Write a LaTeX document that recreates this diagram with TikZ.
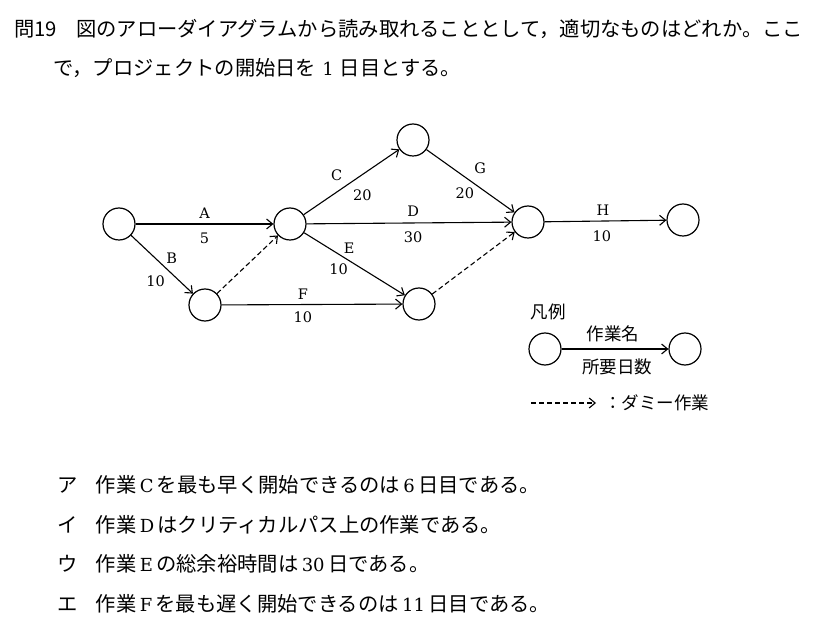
\documentclass[tikz,border=0pt]{standalone}
\usepackage{fontspec}
\usepackage{tikz}
\usetikzlibrary{arrows.meta}
\newfontfamily\jp{Noto Sans CJK JP}
\newfontfamily\latfont{DejaVu Serif}
\newcommand\ltn[1]{{\latfont\fontsize{18}{20}\selectfont #1}}

\tikzset{
  evnode/.style={circle, draw, line width=1.2pt, minimum size=32pt, inner sep=0pt},
  act/.style={line width=1.1pt, -{Straight Barb[length=6pt,width=10pt]}},
  dummy/.style={act, dash pattern=on 5pt off 3pt},
  lbl/.style={font=\latfont\fontsize{14.5}{17}\selectfont, inner sep=2pt},
  jlbl/.style={font=\jp\fontsize{17.5}{20}\selectfont, inner sep=2pt},
  headtxt/.style={font=\jp\fontsize{20.3}{24}\selectfont, inner sep=0pt, anchor=west},
  opttxt/.style={font=\jp\fontsize{20.3}{24}\selectfont, inner sep=0pt, anchor=west}
}

\begin{document}
\begin{tikzpicture}[x=1pt, y=-1pt]
  \useasboundingbox (0,0) rectangle (823,628);

  % question
  \node[headtxt] (q) at (14,29) {問19};
  \node[headtxt] (q1) at (76,29) {図のアローダイアグラムから読み取れることとして，適切なものはどれか。ここ};
  \node[headtxt] (q2) at (53,68) {で，プロジェクトの開始日を\hspace{0.3em}\ltn{1}\hspace{0.3em}日目とする。};

  % events
  \node[evnode] (n1) at (119,224) {};
  \node[evnode] (n2) at (290,224) {};
  \node[evnode] (n3) at (205,305) {};
  \node[evnode] (n4) at (413,140) {};
  \node[evnode] (n5) at (419,304) {};
  \node[evnode] (n6) at (528,222) {};
  \node[evnode] (n7) at (683,220) {};

  % activities
  \draw[act] (n1) -- node[lbl, above=3pt] (lA) {A} node[lbl, below=6pt] (dA) {5} (n2);
  \draw[act] (n1) -- node[lbl, pos=0.53, above right] (lB) {B} node[lbl, pos=0.62, below left=2pt] (dB) {10} (n3);
  \draw[dummy] (n3) -- (n2);
  \draw[act] (n2) -- node[lbl, pos=0.45, above left=2pt] (lC) {C} node[lbl, pos=0.46, below right=3pt] (dC) {20} (n4);
  \draw[act] (n2) -- node[lbl, pos=0.52, above=4pt] (lD) {D} node[lbl, pos=0.52, below=6pt] (dD) {30} (n6);
  \draw[act] (n2) -- node[lbl, pos=0.37, above right] (lE) {E} node[lbl, pos=0.46, below left] (dE) {10} (n5);
  \draw[act] (n3) -- node[lbl, pos=0.45, above=2pt] (lF) {F} node[lbl, pos=0.45, below=5pt] (dF) {10} (n5);
  \draw[act] (n4) -- node[lbl, pos=0.48, above right=3pt] (lG) {G} node[lbl, pos=0.57, below left] (dG) {20} (n6);
  \draw[dummy] (n5) -- (n6);
  \draw[act] (n6) -- node[lbl, pos=0.48, above=3pt] (lH) {H} node[lbl, pos=0.47, below=7pt] (dH) {10} (n7);

  % legend
  \node[jlbl] (lg) at (548,312) {凡例};
  \node[evnode] (lg1) at (545,349) {};
  \node[evnode] (lg2) at (685,349) {};
  \draw[act] (lg1) -- node[jlbl, pos=0.48, above=5pt] (lgname) {作業名} node[jlbl, pos=0.52, below=7pt] (lgdays) {所要日数} (lg2);
  \coordinate (dm1) at (531,403);
  \coordinate (dm2) at (596,403);
  \draw[dummy] (dm1) -- (dm2);
  \node[jlbl, anchor=west, inner sep=0pt] (lgdm) at (604,403) {：ダミー作業};

  % choices
  \node[opttxt] (oa) at (57,485) {ア\hspace{0.9em}作業\,\ltn{C}\,を最も早く開始できるのは\,\ltn{6}\,日目である。};
  \node[opttxt] (ob) at (57,525) {イ\hspace{0.9em}作業\,\ltn{D}\,はクリティカルパス上の作業である。};
  \node[opttxt] (oc) at (57,564) {ウ\hspace{0.9em}作業\,\ltn{E}\,の総余裕時間は\,\ltn{30}\,日である。};
  \node[opttxt] (od) at (57,604) {エ\hspace{0.9em}作業\,\ltn{F}\,を最も遅く開始できるのは\,\ltn{11}\,日目である。};
\end{tikzpicture}
\end{document}
